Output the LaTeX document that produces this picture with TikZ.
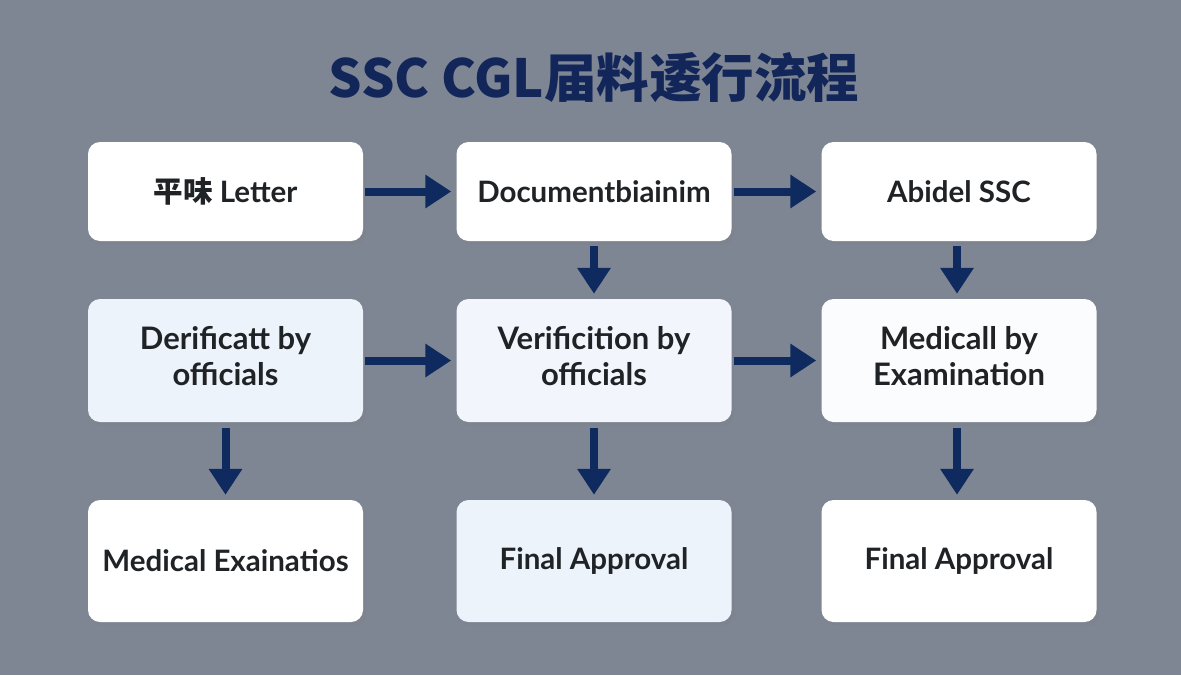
\documentclass[tikz,border=0pt]{standalone}
\usepackage{fontspec}
\setmainfont{Lato}
\newfontfamily\cjk{Noto Sans CJK SC}
\usetikzlibrary{arrows.meta,shadows}
\definecolor{bg}{HTML}{7E8694}
\definecolor{navy}{HTML}{0E2A5E}
\definecolor{titlec}{HTML}{13265A}
\definecolor{txt}{HTML}{202326}
\definecolor{lb1}{HTML}{EDF3FB}
\definecolor{lb2}{HTML}{F2F6FC}
\definecolor{lb3}{HTML}{FBFCFE}
\newcommand{\twolines}[2]{\raisebox{5pt}{\begin{tabular}{@{}c@{}}#1\\#2\end{tabular}}}
\tikzset{
  box/.style={rounded corners=12pt, minimum width=275pt, minimum height=#1,
    inner sep=0pt, align=center, text=txt, fill=white,
    font=\fontsize{29.5}{36}\selectfont\bfseries,
    drop shadow={opacity=0.22, shadow xshift=3pt, shadow yshift=-4pt}},
  box/.default=99pt,
  big/.style={font=\fontsize{31}{36}\selectfont\bfseries},
  arr/.style={draw=navy, line width=8pt,
    -{Triangle[length=26pt,width=32pt]}, shorten <=2pt, shorten >=5pt},
}
\begin{document}
\begin{tikzpicture}[x=1pt,y=-1pt]
\fill[bg] (0,0) rectangle (1181,675);
\useasboundingbox (0,0) rectangle (1181,675);
\node[text=titlec, font=\cjk\fontsize{52.5}{60}\selectfont\bfseries] (title) at (594,78) {SSC CGL届料逶行流程};
% row 1
\node[box] (a1) at (225.5,191.5) {{\cjk 平味} Letter};
\node[box] (a2) at (594,191.5) {Documentbiainim};
\node[box] (a3) at (959,191.5) {Abidel SSC};
% row 2
\node[box=123pt, big, fill=lb1] (b1) at (225.5,360.5) {\twolines{Derificatt by}{officials}};
\node[box=123pt, big, fill=lb2] (b2) at (594,360.5) {\twolines{Verificition by}{officials}};
\node[box=123pt, big, fill=lb3] (b3) at (959,360.5) {\twolines{Medicall by}{Examination}};
% row 3
\node[box=122pt] (c1) at (225.5,561) {Medical Exainatios};
\node[box=122pt, fill=lb1] (c2) at (594,561) {Final Approval};
\node[box=122pt] (c3) at (959,561) {Final Approval};
% arrows
\draw[arr] (a1.east) -- (a2.west);
\draw[arr] (a2.east) -- (a3.west);
\draw[arr] (b1.east) -- (b2.west);
\draw[arr] (b2.east) -- (b3.west);
\draw[arr, shorten <=5pt] (a2.south) -- (b2.north);
\draw[arr, shorten <=5pt] ([xshift=-2pt]a3.south) -- ([xshift=-2pt]b3.north);
\draw[arr, shorten <=6pt] (b1.south) -- (c1.north);
\draw[arr, shorten <=6pt] (b2.south) -- (c2.north);
\draw[arr, shorten <=6pt] ([xshift=-2pt]b3.south) -- ([xshift=-2pt]c3.north);
\end{tikzpicture}
\end{document}
